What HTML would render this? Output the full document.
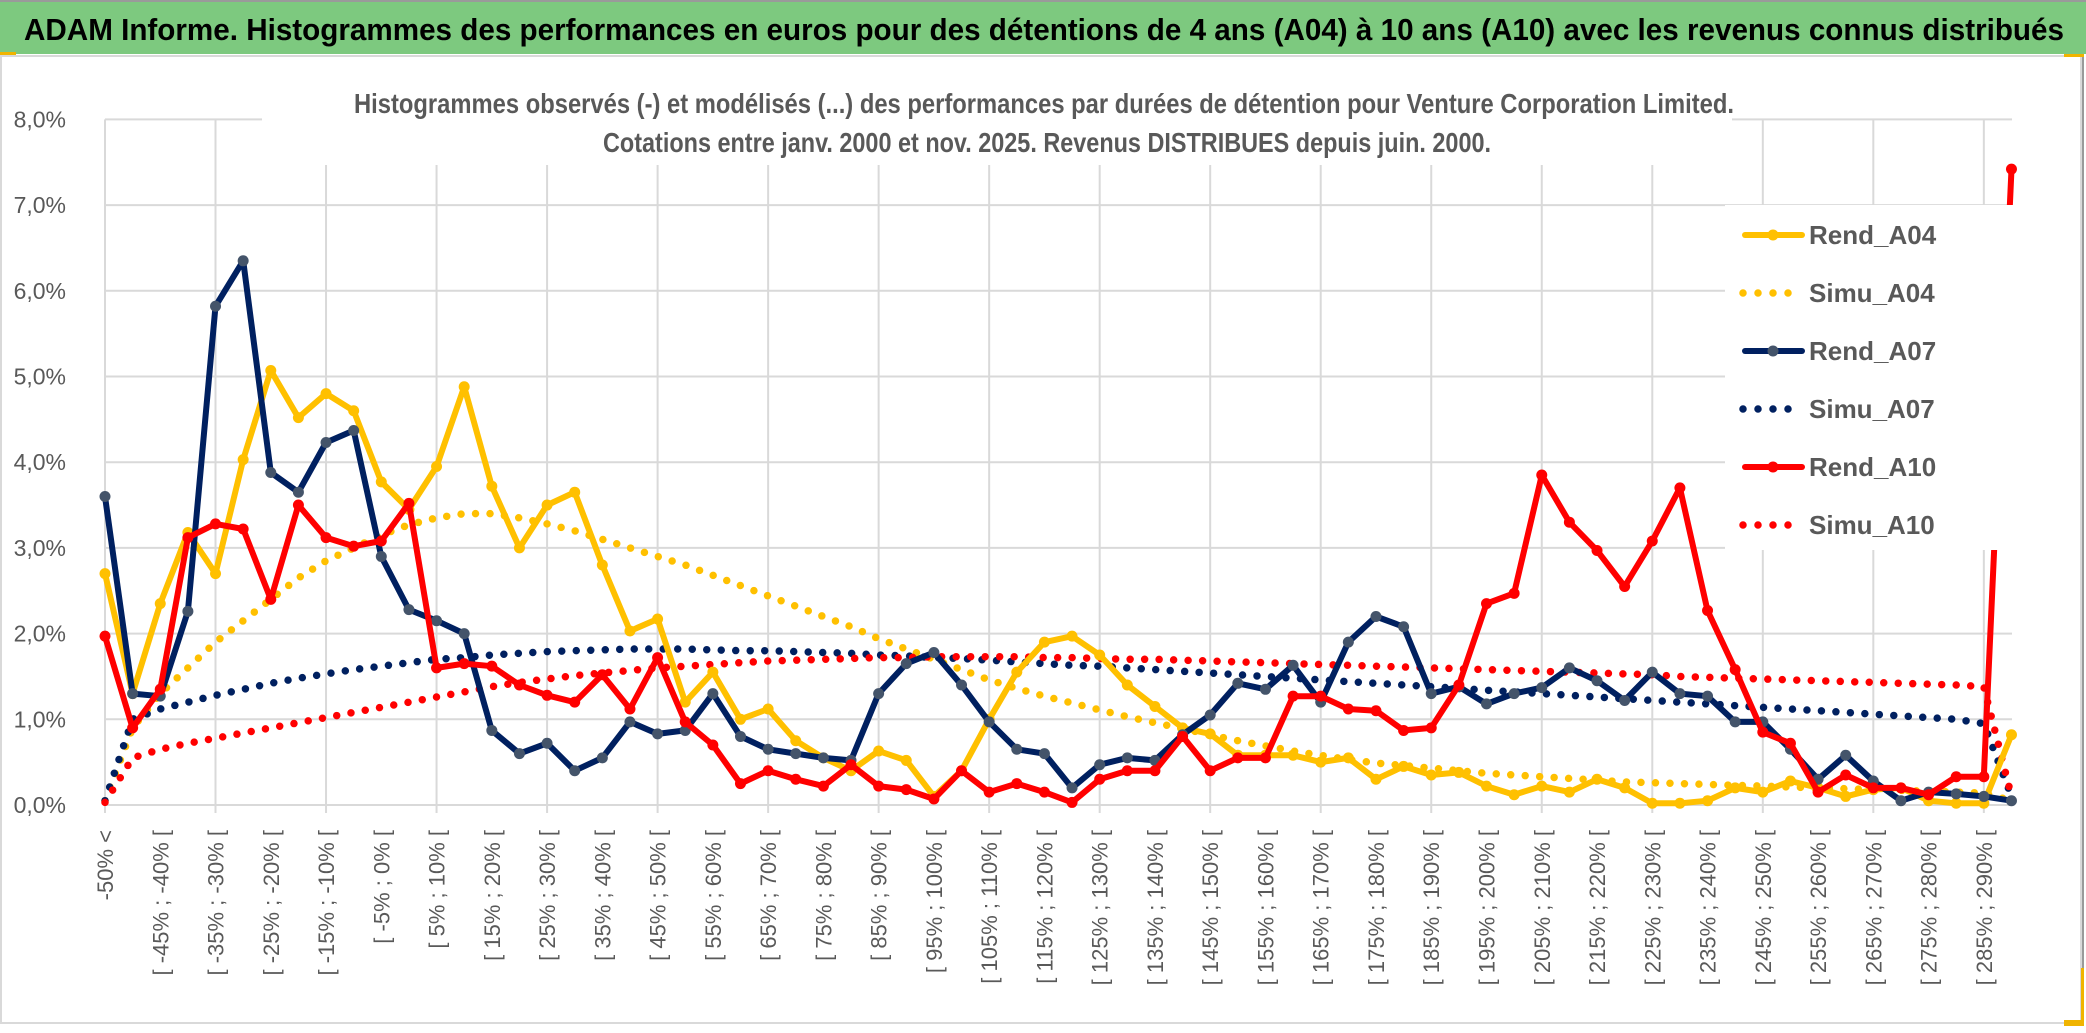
<!DOCTYPE html>
<html>
<head>
<meta charset="utf-8">
<style>
html,body{margin:0;padding:0;background:#fff;}
body{width:2086px;height:1033px;overflow:hidden;font-family:"Liberation Sans Narrow","Liberation Sans",sans-serif;}
svg{display:block;}
</style>
</head>
<body>
<svg id="chart" width="2086" height="1033" viewBox="0 0 2086 1033" xmlns="http://www.w3.org/2000/svg">
  <rect x="0" y="0" width="2086" height="1033" fill="#ffffff"/>
  <rect x="0" y="2" width="2086" height="52" fill="#7dc97f"/>
  <rect x="0" y="0" width="2086" height="2" fill="#9a9a9a"/>
  <rect x="0" y="52" width="16" height="3" fill="#f0b400"/>
  <text x="24" y="40" font-size="31" font-weight="bold" fill="#000" textLength="2040" lengthAdjust="spacingAndGlyphs" font-family="Liberation Sans Narrow, Liberation Sans, sans-serif">ADAM Informe. Histogrammes des performances en euros pour des détentions de 4 ans (A04) à 10 ans (A10) avec les revenus connus distribués</text>
  <rect x="1" y="56" width="2080" height="967" fill="#ffffff" stroke="#d9d9d9" stroke-width="2"/>
  <rect x="2082" y="56" width="2" height="970" fill="#9a9a9a"/>
  <rect x="2064" y="1020" width="20" height="6" fill="#f0b400"/>
  <rect x="2081" y="968" width="3" height="58" fill="#f0b400"/>
  <rect x="2064" y="54" width="20" height="3" fill="#f0b400"/>
  <g id="grid"></g>
  <rect x="262" y="60" width="1470" height="105" fill="#ffffff"/>
  <text x="1044" y="113" font-size="28" fill="#595959" text-anchor="middle" textLength="1380" lengthAdjust="spacingAndGlyphs" font-weight="bold">Histogrammes observés (-) et modélisés (...) des performances par durées de détention pour Venture Corporation Limited.</text>
  <text x="1047" y="152" font-size="28" fill="#595959" text-anchor="middle" textLength="888" lengthAdjust="spacingAndGlyphs" font-weight="bold">Cotations entre janv. 2000 et nov. 2025. Revenus DISTRIBUES depuis juin. 2000.</text>
  <g id="yaxis"></g>
  <g id="xaxis"></g>
  <g id="series"></g>
  <g id="legend"></g>
</svg>
<script>
const categories = ["-50% <"];
for (let a = -50; a < 295; a += 5) categories.push("[ " + a + "% ; " + (a + 5) + "% [");
categories.length = 70;

const yTicks = [0,1,2,3,4,5,6,7,8];
const yTickLabels = ["0,0%","1,0%","2,0%","3,0%","4,0%","5,0%","6,0%","7,0%","8,0%"];

const rendA04 = [2.7,1.3,2.35,3.18,2.7,4.03,5.07,4.52,4.8,4.6,3.77,3.45,3.95,4.88,3.72,3.0,3.5,3.65,2.8,2.03,2.17,1.2,1.55,1.0,1.12,0.75,0.55,0.4,0.63,0.52,0.1,0.4,1.0,1.55,1.9,1.97,1.75,1.4,1.15,0.9,0.83,0.58,0.58,0.58,0.5,0.55,0.3,0.45,0.35,0.38,0.22,0.12,0.22,0.15,0.3,0.2,0.02,0.02,0.05,0.2,0.15,0.28,0.2,0.1,0.18,0.2,0.05,0.02,0.02,0.82];
const simuA04 = [0.05,0.9,1.3,1.6,1.9,2.15,2.4,2.65,2.85,3.0,3.15,3.27,3.35,3.4,3.4,3.35,3.28,3.2,3.1,3.0,2.9,2.8,2.68,2.56,2.44,2.32,2.2,2.08,1.94,1.82,1.7,1.58,1.46,1.36,1.27,1.19,1.11,1.03,0.96,0.89,0.82,0.75,0.69,0.63,0.58,0.53,0.49,0.46,0.43,0.4,0.37,0.35,0.33,0.31,0.29,0.27,0.26,0.25,0.24,0.23,0.22,0.21,0.2,0.19,0.18,0.17,0.16,0.15,0.14,0.05];
const rendA07 = [3.6,1.3,1.27,2.26,5.82,6.35,3.88,3.65,4.23,4.37,2.9,2.28,2.15,2.0,0.87,0.6,0.72,0.4,0.55,0.97,0.83,0.87,1.3,0.8,0.65,0.6,0.55,0.52,1.3,1.65,1.78,1.4,0.97,0.65,0.6,0.2,0.47,0.55,0.52,0.82,1.05,1.42,1.35,1.63,1.2,1.9,2.2,2.08,1.3,1.38,1.18,1.3,1.37,1.6,1.45,1.22,1.55,1.3,1.27,0.97,0.97,0.65,0.3,0.58,0.28,0.05,0.15,0.13,0.1,0.05];
const simuA07 = [0.05,1.0,1.12,1.2,1.28,1.35,1.42,1.48,1.53,1.58,1.62,1.66,1.7,1.72,1.75,1.77,1.79,1.8,1.81,1.82,1.82,1.82,1.81,1.8,1.8,1.79,1.78,1.77,1.75,1.74,1.72,1.71,1.69,1.67,1.65,1.63,1.62,1.6,1.58,1.56,1.54,1.52,1.5,1.48,1.46,1.44,1.42,1.4,1.38,1.36,1.34,1.32,1.3,1.28,1.26,1.24,1.22,1.2,1.18,1.16,1.14,1.12,1.1,1.08,1.06,1.04,1.02,1.0,0.95,0.1];
const rendA10 = [1.97,0.9,1.35,3.12,3.28,3.22,2.4,3.5,3.12,3.02,3.08,3.52,1.6,1.65,1.62,1.4,1.28,1.2,1.52,1.12,1.72,0.97,0.7,0.25,0.4,0.3,0.22,0.47,0.22,0.18,0.07,0.4,0.15,0.25,0.15,0.03,0.3,0.4,0.4,0.8,0.4,0.55,0.55,1.27,1.27,1.12,1.1,0.87,0.9,1.4,2.35,2.47,3.85,3.3,2.97,2.55,3.08,3.7,2.27,1.58,0.85,0.72,0.15,0.35,0.2,0.2,0.12,0.33,0.33,7.42];
const simuA10 = [0.03,0.55,0.65,0.72,0.78,0.84,0.9,0.96,1.02,1.08,1.14,1.2,1.26,1.32,1.38,1.43,1.47,1.51,1.54,1.57,1.6,1.62,1.64,1.66,1.68,1.69,1.7,1.71,1.72,1.72,1.73,1.73,1.73,1.73,1.72,1.72,1.71,1.7,1.7,1.69,1.68,1.67,1.66,1.65,1.64,1.63,1.62,1.61,1.6,1.59,1.58,1.57,1.56,1.55,1.54,1.53,1.52,1.5,1.49,1.48,1.47,1.46,1.45,1.44,1.43,1.42,1.41,1.4,1.38,0.1];

const NS = "http://www.w3.org/2000/svg";
const X0 = 105, STEP = 27.63, Y0 = 805, YPER = 85.7, XR = 2012;
function xPos(i){ return X0 + i * STEP; }
function yPos(v){ return Y0 - v * YPER; }
function mk(tag, attrs, parent){
  const e = document.createElementNS(NS, tag);
  for (const k in attrs) e.setAttribute(k, attrs[k]);
  parent.appendChild(e);
  return e;
}

const grid = document.getElementById("grid");
yTicks.forEach(function(t){
  const l = mk("line", {x1:X0, x2:XR, y1:yPos(t), y2:yPos(t), stroke:"#d9d9d9", "stroke-width":2}, grid);
  
  
});
for (let i = 0; i < categories.length; i += 4) {
  const l = mk("line", {x1:xPos(i), x2:xPos(i), y1:yPos(8), y2:Y0 + 8, stroke:"#d9d9d9", "stroke-width":2}, grid);
  
  
}

const yaxis = document.getElementById("yaxis");
yTicks.forEach(function(t, k){
  const tx = mk("text", {x:66, y:yPos(t) + 8, "font-size":23, fill:"#595959", "text-anchor":"end"}, yaxis);
  tx.textContent = yTickLabels[k];
  
  
});

const xaxis = document.getElementById("xaxis");
for (let i = 0; i < categories.length; i += 2) {
  const x = xPos(i) + 8, y = 830;
  const tx = mk("text", {x:x, y:y, "font-size":22, fill:"#595959", "text-anchor":"end", transform:"rotate(-90 " + x + " " + y + ")", "font-family":"Liberation Sans, sans-serif"}, xaxis);
  tx.textContent = categories[i];
  
  
}

const seriesG = document.getElementById("series");
function pts(arr){ return arr.map(function(v,i){ return xPos(i).toFixed(1) + "," + yPos(v).toFixed(1); }).join(" "); }
function dotted(arr, color, name){
  const p = mk("polyline", {points:pts(arr), fill:"none", stroke:color, "stroke-width":7.5, "stroke-linecap":"round", "stroke-dasharray":"0 14.5"}, seriesG);
  
  
}
function solid(arr, color, mcolor, name){
  const p = mk("polyline", {points:pts(arr), fill:"none", stroke:color, "stroke-width":6, "stroke-linejoin":"round"}, seriesG);
  
  
  arr.forEach(function(v,i){
    const c = mk("circle", {cx:xPos(i), cy:yPos(v), r:5.5, fill:mcolor}, seriesG);
    
    
  });
}
dotted(simuA04, "#ffc000", "simu-a04-line");
dotted(simuA07, "#002060", "simu-a07-line");
dotted(simuA10, "#ff0000", "simu-a10-line");
solid(rendA04, "#ffc000", "#ffc000", "rend-a04-line");
solid(rendA07, "#002060", "#44546a", "rend-a07-line");
solid(rendA10, "#ff0000", "#ff0000", "rend-a10-line");

const legend = document.getElementById("legend");
const lbg = mk("rect", {x:1725, y:205, width:305, height:345, fill:"#ffffff"}, legend);


const legendNames = ["Rend_A04","Simu_A04","Rend_A07","Simu_A07","Rend_A10","Simu_A10"];
const legendColors = ["#ffc000","#ffc000","#002060","#002060","#ff0000","#ff0000"];
const legendMarker = ["#ffc000",null,"#44546a",null,"#ff0000",null];
legendNames.forEach(function(n, k){
  const cy = 235 + k * 58;
  let s;
  if (k % 2 === 0) {
    s = mk("line", {x1:1745, x2:1802, y1:cy, y2:cy, stroke:legendColors[k], "stroke-width":6, "stroke-linecap":"round"}, legend);
    mk("circle", {cx:1773, cy:cy, r:5.5, fill:legendMarker[k]}, legend);
  } else {
    s = mk("line", {x1:1743, x2:1790, y1:cy, y2:cy, stroke:legendColors[k], "stroke-width":7.5, "stroke-linecap":"round", "stroke-dasharray":"0 15"}, legend);
  }
  
  
  const t = mk("text", {x:1809, y:cy + 9, "font-size":26, fill:"#595959", "font-weight":"bold"}, legend);
  t.textContent = n;
  
  
});
</script>
</body>
</html>
